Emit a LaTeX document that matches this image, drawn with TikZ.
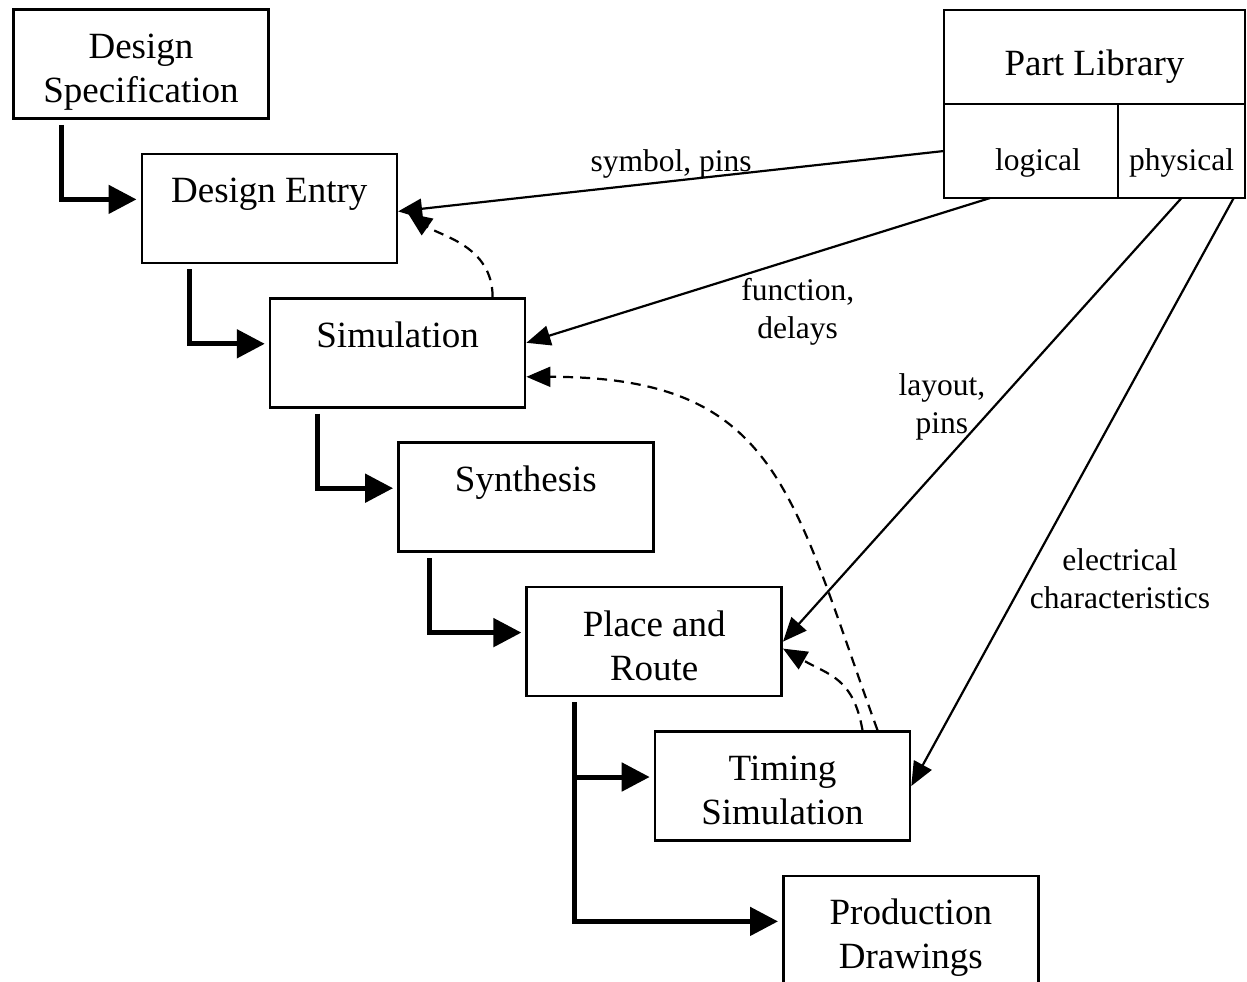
\documentclass[tikz,border=0pt]{standalone}
\usepackage{fontspec}
\setmainfont{Liberation Serif}
\usetikzlibrary{arrows.meta}

\begin{document}
\begin{tikzpicture}[
    x=1pt, y=-1pt,
    stage/.style={
        draw, line width=2.6pt,
        minimum width=255pt, minimum height=109pt,
        inner sep=0pt, align=center,
        text height=77pt, text depth=0pt,
        font=\fontsize{37}{44}\selectfont,
    },
    part/.style={ draw, line width=2.6pt, inner sep=0pt, outer sep=0pt, text depth=0pt, },
    flow/.style={ line width=5pt, -{Triangle[length=28pt,width=28pt]}, shorten >=4pt, },
    feed/.style={ line width=2.2pt, -{Triangle[length=24pt,width=20pt]}, },
    back/.style={ feed, dash pattern=on 10pt off 7pt, },
    note/.style={ inner sep=2pt, align=center, font=\fontsize{31.5}{38}\selectfont, },
]
\useasboundingbox (0,0) rectangle (1247,982);

% the design flow, one step down and right each time
\foreach \name/\txt [count=\i from 0] in {
    spec/Design\\Specification,
    entry/Design Entry\\,
    sim/Simulation\\,
    synth/Synthesis\\,
    par/Place and\\Route,
    timing/Timing\\Simulation,
    prod/Production\\Drawings}
  \node[stage] (\name) at (141+128.3*\i, 64+144.4*\i) {\txt};

\foreach \a/\b/\dx in {spec/entry/-80pt, entry/sim/-80pt, sim/synth/-80pt,
                       synth/par/-96pt, par/timing/-80pt, par/prod/-80pt}
  \draw[flow] ([xshift=\dx, yshift=-5pt]\a.south) |- ([yshift=9pt]\b.west);

% part library
\node[part, minimum width=301pt, minimum height=94pt, text height=36pt,
      font=\fontsize{37}{44}\selectfont] (lib) at (1094.5,57) {Part Library};
\node[part, minimum width=174pt, minimum height=94pt, text height=38pt,
      font=\fontsize{31.5}{38}\selectfont, anchor=north west] (logical) at (lib.south west) {\hspace*{14pt}logical};
\node[part, minimum width=127pt, minimum height=94pt, text height=38pt,
      font=\fontsize{31.5}{38}\selectfont, anchor=north east] (physical) at (lib.south east) {physical};

\draw[feed] (logical.west) -- node[note, above] {symbol, pins} ([yshift=-3pt]entry.east);
\draw[feed] (logical.229) -- node[note, pos=0.415, below=17pt] {function,\\delays} ([yshift=10pt]sim.east);
\draw[feed] (physical.south) -- node[note, pos=0.47, left=6pt] {layout,\\pins} (par.east);
\draw[feed] (physical.-42) -- node[note, pos=0.648, right=2pt] {electrical\\characteristics} (timing.east);

% feedback
\draw[back, shorten >=12pt] ([xshift=95pt]sim.north) to[out=90, in=-35] ([yshift=2pt]entry.east);
\draw[back] ([xshift=95pt]timing.north) to[out=110, in=0, looseness=1.3] ([yshift=-24pt]sim.east);
\draw[back] ([xshift=80pt]timing.north) to[out=100, in=-30, looseness=1.2] ([yshift=-7pt]par.east);
\end{tikzpicture}
\end{document}
